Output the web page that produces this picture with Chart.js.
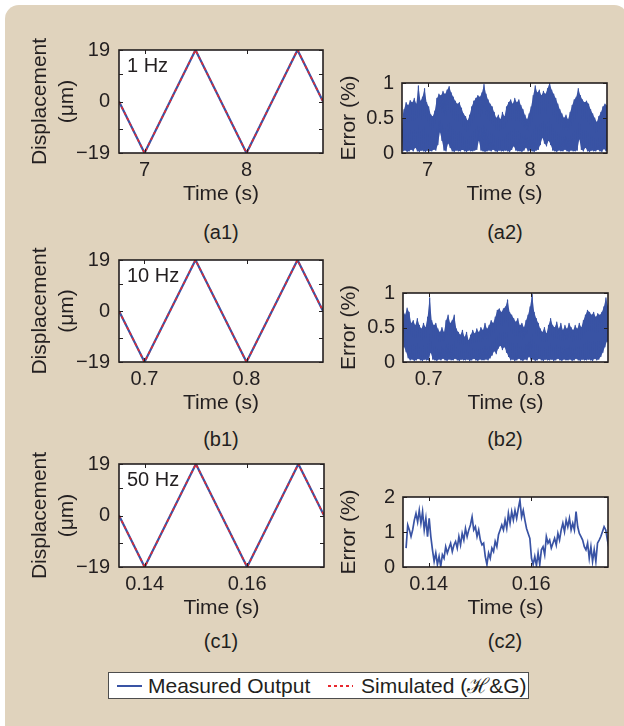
<!DOCTYPE html>
<html>
<head>
<meta charset="utf-8">
<script src="https://cdn.jsdelivr.net/npm/chart.js@4.4.1/dist/chart.umd.min.js"></script>
<style>
  html, body { margin: 0; padding: 0; background: #ffffff; }
  body { width: 624px; height: 726px; position: relative; overflow: hidden;
         font-family: "Liberation Sans", Arial, sans-serif; color: #231f20; }
  #panel { position: absolute; left: 5px; top: 5px; width: 623px; height: 760px;
           border-radius: 14px; background: #e0d3bd; }
  canvas { position: absolute; }
  .sub { position: absolute; font-size: 20px; line-height: 1; white-space: nowrap;
         transform: translate(-50%, -50%); }
  #legend { position: absolute; left: 108px; top: 672px; width: 419px; height: 25px;
            background: #ffffff; border: 1px solid #4d4d4d; }
  #legend .lt { position: absolute; top: 1px; font-size: 21px; line-height: 24px; white-space: nowrap; }
  #legend .sw { position: absolute; top: 12px; width: 25px; height: 2px; }
</style>
</head>
<body>
<div id="panel"></div>

<div class="sub" style="left:221px; top:232px;">(a1)</div>
<div class="sub" style="left:505px; top:232px;">(a2)</div>
<div class="sub" style="left:221px; top:439px;">(b1)</div>
<div class="sub" style="left:505px; top:439px;">(b2)</div>
<div class="sub" style="left:221px; top:641px;">(c1)</div>
<div class="sub" style="left:505px; top:641px;">(c2)</div>

<div id="legend">
  <span class="sw" style="left:8px; background:#3953a4;"></span>
  <span class="lt" style="left:39px;">Measured Output</span>
  <span class="sw" style="left:219px; background:repeating-linear-gradient(90deg,#e8282e 0 3px,transparent 3px 6px);"></span>
  <span class="lt" style="left:252px;">Simulated (ℋ&amp;G)</span>
</div>

<script>
// ---------- data ----------
// 1 Hz triangle reference (displacement in µm)
const a1Time = [6.75, 7, 7.5, 8, 8.5, 8.75];
const a1Measured = [0, -19, 19, -19, 19, 0];
const a1Simulated = [0, -19, 19, -19, 19, 0];

// 10 Hz
const b1Time = [0.675, 0.7, 0.75, 0.8, 0.85, 0.875];
const b1Measured = [0, -19, 19, -19, 19, 0];
const b1Simulated = [0, -19, 19, -19, 19, 0];

// 50 Hz
const c1Time = [0.135, 0.14, 0.15, 0.16, 0.17, 0.175];
const c1Measured = [0, -19, 19, -19, 19, 0];
const c1Simulated = [0, -19, 19, -19, 19, 0];

// tracking error (%) at 1 Hz: per-sample peak and trough, one sample every 0.02 s from 6.75 s
const a2Start = 6.75, a2Step = 0.02;
const a2Peak = [
  0.50,0.62,0.72,0.68,0.75,0.72,0.78,0.70,0.96,0.74,
  0.80,0.92,0.72,0.66,0.55,0.52,0.60,0.78,0.84,0.82,
  0.88,0.84,0.90,0.95,0.86,0.80,0.74,0.70,0.72,0.64,
  0.56,0.52,0.46,0.54,0.66,0.74,0.78,0.82,0.80,0.86,
  0.98,0.84,0.76,0.70,0.66,0.58,0.50,0.54,0.48,0.58,
  0.52,0.66,0.72,0.76,0.70,0.78,0.72,0.76,0.68,0.62,
  0.54,0.48,0.56,0.66,0.82,0.96,0.86,0.90,0.82,0.88,
  0.84,0.92,1.00,0.90,0.84,0.78,0.70,0.62,0.56,0.50,
  0.54,0.48,0.58,0.68,0.76,0.80,0.92,0.82,0.76,0.72,
  0.74,0.70,0.62,0.56,0.50,0.44,0.52,0.58,0.66,0.70,
  0.68];
const a2Trough = [
  0.03,0.04,0.02,0.03,0.05,0.03,0.08,0.03,0.02,0.04,
  0.03,0.02,0.04,0.03,0.03,0.05,0.04,0.12,0.30,0.18,
  0.04,0.03,0.14,0.08,0.03,0.02,0.04,0.03,0.03,0.05,
  0.03,0.02,0.04,0.03,0.03,0.04,0.05,0.18,0.04,0.03,
  0.02,0.03,0.04,0.03,0.05,0.03,0.02,0.04,0.03,0.03,
  0.04,0.03,0.02,0.05,0.10,0.04,0.03,0.03,0.02,0.04,
  0.08,0.03,0.04,0.03,0.02,0.04,0.05,0.12,0.22,0.14,
  0.10,0.18,0.12,0.04,0.03,0.02,0.04,0.03,0.03,0.05,
  0.03,0.02,0.04,0.03,0.03,0.04,0.20,0.05,0.03,0.08,
  0.03,0.02,0.04,0.03,0.03,0.05,0.03,0.02,0.06,0.03,
  0.03];

// tracking error (%) at 10 Hz: one sample every 0.002 s from 0.675 s
const b2Start = 0.675, b2Step = 0.002;
const b2Peak = [
  0.75,0.68,0.78,0.72,0.56,0.60,0.53,0.63,0.53,0.48,
  0.56,0.50,0.65,0.93,0.60,0.53,0.56,0.48,0.43,0.50,
  0.43,0.60,0.68,0.56,0.60,0.68,0.48,0.43,0.39,0.46,
  0.36,0.43,0.31,0.39,0.46,0.41,0.48,0.43,0.50,0.46,
  0.56,0.48,0.53,0.60,0.56,0.65,0.75,0.77,0.72,0.77,
  0.80,0.90,0.72,0.68,0.63,0.58,0.63,0.53,0.56,0.50,
  0.60,0.68,0.80,0.98,0.72,0.63,0.56,0.48,0.43,0.50,
  0.41,0.53,0.63,0.53,0.50,0.58,0.48,0.56,0.46,0.53,
  0.48,0.56,0.50,0.46,0.53,0.48,0.56,0.50,0.60,0.68,
  0.75,0.72,0.68,0.72,0.65,0.70,0.68,0.72,0.80,0.93,
  0.80];
const b2Trough = [
  0.22,0.15,0.06,0.03,0.04,0.02,0.03,0.05,0.03,0.02,
  0.04,0.03,0.03,0.14,0.04,0.03,0.02,0.04,0.03,0.05,
  0.03,0.02,0.04,0.03,0.03,0.05,0.03,0.02,0.04,0.03,
  0.03,0.04,0.02,0.03,0.05,0.03,0.02,0.04,0.03,0.03,
  0.04,0.03,0.06,0.10,0.16,0.12,0.20,0.24,0.18,0.22,
  0.14,0.08,0.03,0.04,0.02,0.03,0.05,0.03,0.02,0.04,
  0.03,0.08,0.03,0.04,0.02,0.03,0.05,0.03,0.02,0.04,
  0.03,0.03,0.04,0.02,0.03,0.05,0.03,0.02,0.04,0.03,
  0.03,0.04,0.02,0.03,0.05,0.03,0.02,0.04,0.03,0.03,
  0.04,0.03,0.02,0.05,0.03,0.04,0.08,0.14,0.22,0.30,
  0.26];

// tracking error (%) at 50 Hz, sampled every 0.000322 s from 0.1356 s
const c2Start = 0.1356, c2Step = 0.000322;
const c2Error = [
  0.54,1.20,1.06,0.87,1.06,1.34,1.53,1.29,1.62,1.25,
  1.58,1.06,1.39,0.87,1.39,0.87,0.49,0.16,0.40,0.07,
  0.30,0.02,0.35,0.25,0.58,0.40,0.54,0.68,0.44,0.63,
  0.73,0.54,0.87,0.63,0.96,0.77,1.10,0.87,1.06,1.20,
  1.43,1.06,1.15,0.87,1.06,0.77,0.63,0.68,0.30,0.07,
  0.40,0.25,0.54,0.44,0.73,0.58,0.92,1.06,1.20,1.06,
  1.34,1.10,1.53,1.25,1.58,1.34,1.62,1.39,1.67,1.91,
  1.43,1.62,1.34,1.10,0.96,0.82,0.25,0.07,0.30,0.04,
  0.40,0.07,0.49,0.58,0.35,0.87,0.68,0.77,0.54,0.68,
  0.82,0.63,0.96,0.77,1.06,1.25,1.01,1.34,1.15,1.39,
  1.06,1.25,1.06,1.58,1.15,0.96,0.87,0.77,0.58,0.49,
  0.68,0.25,0.58,0.16,0.49,0.16,0.68,0.77,0.87,1.01,
  1.15,1.06,0.77,0.54];

// tick values and their labels
const aTimeTicks = [7, 8],        aTimeLabels = ['7', '8'];
const bTimeTicks = [0.7, 0.8],    bTimeLabels = ['0.7', '0.8'];
const cTimeTicks = [0.14, 0.16],  cTimeLabels = ['0.14', '0.16'];
const dispTicks = [-19, -10, 0, 10, 19];
const dispLabels = ['\u221219', '', '0', '', '19'];
const errTicks = [0, 0.5, 1],     errLabels = ['0', '0.5', '1'];
const err2Ticks = [0, 1, 2],      err2Labels = ['0', '1', '2'];

// ---------- drawing ----------
const INK = '#231f20';
const BLUE = '#3953a4';
const RED = '#e8282e';
const FAMILY = '"Liberation Sans", Arial, sans-serif';

const xy = (xs, ys) => xs.map((x, i) => ({ x, y: ys[i] }));
const series = (t0, dt, vs, shift) => vs.map((v, i) => ({ x: t0 + (i + shift) * dt, y: v }));
// alternate each sample's peak with its trough half a step later
const zigzag = (t0, dt, hi, lo) => {
  const pts = [];
  hi.forEach((h, i) => {
    pts.push({ x: t0 + i * dt, y: h });
    pts.push({ x: t0 + (i + 0.5) * dt, y: lo[i] });
  });
  return pts;
};
// dense error trace: the zigzag on top, a solid fill between peaks and troughs under it
const bandSets = (t0, dt, hi, lo) => [
  { data: zigzag(t0, dt, hi, lo), borderColor: BLUE, borderWidth: 1.2, borderJoinStyle: 'round', fill: false },
  { data: series(t0, dt, hi, 0), borderWidth: 0, borderColor: 'rgba(0,0,0,0)', backgroundColor: BLUE, fill: '+1' },
  { data: series(t0, dt, lo, 0.5), borderWidth: 0, borderColor: 'rgba(0,0,0,0)', fill: false }
];

// white plot box, inward ticks on all four sides, frame and an optional tag
const boxPlugin = {
  id: 'box',
  beforeDatasetsDraw(chart) {
    const { ctx, chartArea: a } = chart;
    ctx.save();
    ctx.fillStyle = '#ffffff';
    ctx.fillRect(a.left, a.top, a.width, a.height);
    ctx.restore();
  },
  afterDatasetsDraw(chart, args, opts) {
    const { ctx, chartArea: a, scales } = chart;
    ctx.save();
    ctx.strokeStyle = INK;
    ctx.lineWidth = 1;
    ctx.beginPath();
    scales.x.ticks.forEach(t => {
      const px = Math.round(scales.x.getPixelForValue(t.value)) + 0.5;
      ctx.moveTo(px, a.bottom); ctx.lineTo(px, a.bottom - 4);
      ctx.moveTo(px, a.top); ctx.lineTo(px, a.top + 4);
    });
    scales.y.ticks.forEach(t => {
      const py = Math.round(scales.y.getPixelForValue(t.value)) + 0.5;
      ctx.moveTo(a.left, py); ctx.lineTo(a.left + 4, py);
      ctx.moveTo(a.right, py); ctx.lineTo(a.right - 4, py);
    });
    ctx.stroke();
    ctx.lineWidth = 1.6;
    ctx.strokeRect(a.left, a.top, a.width, a.height);
    if (opts.tag) {
      ctx.fillStyle = INK;
      ctx.font = '20px ' + FAMILY;
      ctx.textBaseline = 'alphabetic';
      ctx.textAlign = 'left';
      ctx.fillText(opts.tag, a.left + 8, a.top + 22);
    }
    ctx.restore();
  }
};

function panel(p) {
  const [cx, cy, cw, ch] = p.canvas;
  const [bl, bt, br, bb] = p.box;
  const cv = document.createElement('canvas');
  cv.width = cw; cv.height = ch;
  cv.style.left = cx + 'px'; cv.style.top = cy + 'px';
  cv.style.width = cw + 'px'; cv.style.height = ch + 'px';
  document.body.appendChild(cv);

  new Chart(cv.getContext('2d'), {
    type: 'line',
    data: { datasets: p.datasets },
    options: {
      responsive: false,
      animation: false,
      devicePixelRatio: 1,
      layout: { padding: { left: 0, top: bt - cy, right: cx + cw - br, bottom: 0 } },
      elements: { point: { radius: 0 }, line: { tension: 0 } },
      plugins: { legend: { display: false }, tooltip: { enabled: false }, box: { tag: p.tag } },
      scales: {
        x: {
          type: 'linear', min: p.xMin, max: p.xMax,
          afterFit: s => { s.height = cy + ch - bb; },
          afterBuildTicks: s => { s.ticks = p.xTicks.map(v => ({ value: v })); },
          grid: { display: false, drawTicks: false },
          border: { display: false },
          ticks: {
            autoSkip: false, maxRotation: 0, padding: 5, color: INK,
            font: { family: FAMILY, size: 20 },
            callback: (v, i) => p.xLabels[i]
          },
          title: {
            display: true, text: 'Time (s)', color: INK,
            font: { family: FAMILY, size: 21, lineHeight: 1.2 },
            padding: { top: 0, bottom: 8.4 }
          }
        },
        y: {
          type: 'linear', min: p.yMin, max: p.yMax,
          afterFit: s => { s.width = bl - cx; },
          afterBuildTicks: s => { s.ticks = p.yTicks.map(v => ({ value: v })); },
          grid: { display: false, drawTicks: false },
          border: { display: false },
          ticks: {
            autoSkip: false, padding: p.yPad, color: INK,
            font: { family: FAMILY, size: 20 },
            callback: (v, i) => p.yLabels[i]
          },
          title: {
            display: true, text: p.yTitle, color: INK,
            font: { family: FAMILY, size: 21, lineHeight: p.yTitleLH },
            padding: { top: p.yTitlePad, bottom: 0 }
          }
        }
      }
    },
    plugins: [boxPlugin]
  });
}

const simulated = (xs, ys) => ({
  data: xy(xs, ys), borderColor: RED, borderWidth: 1.6, borderDash: [3, 3], fill: false
});
const measured = (xs, ys) => ({
  data: xy(xs, ys), borderColor: BLUE, borderWidth: 2.2, fill: false
});
const dispAxis = {
  yMin: -19, yMax: 19, yTicks: dispTicks, yLabels: dispLabels, yPad: 9,
  yTitle: ['Displacement', '(\u03bcm)'], yTitleLH: 1.3, yTitlePad: 26.3
};
const errAxis = (ticks, labels, max) => ({
  yMin: 0, yMax: max, yTicks: ticks, yLabels: labels, yPad: 8,
  yTitle: 'Error (%)', yTitleLH: 1.2, yTitlePad: 6.4
});

// row a: 1 Hz
panel(Object.assign({
  canvas: [0, 0, 330, 215], box: [119, 50, 323, 153], tag: '1 Hz',
  xMin: 6.75, xMax: 8.75, xTicks: aTimeTicks, xLabels: aTimeLabels,
  datasets: [simulated(a1Time, a1Simulated), measured(a1Time, a1Measured)]
}, dispAxis));
panel(Object.assign({
  canvas: [330, 0, 294, 215], box: [402, 83, 607, 153],
  xMin: 6.75, xMax: 8.75, xTicks: aTimeTicks, xLabels: aTimeLabels,
  datasets: bandSets(a2Start, a2Step, a2Peak, a2Trough)
}, errAxis(errTicks, errLabels, 1)));

// row b: 10 Hz
panel(Object.assign({
  canvas: [0, 215, 330, 209], box: [119, 260, 323, 362], tag: '10 Hz',
  xMin: 0.675, xMax: 0.875, xTicks: bTimeTicks, xLabels: bTimeLabels,
  datasets: [simulated(b1Time, b1Simulated), measured(b1Time, b1Measured)]
}, dispAxis));
panel(Object.assign({
  canvas: [330, 215, 294, 209], box: [403, 293, 608, 362],
  xMin: 0.675, xMax: 0.875, xTicks: bTimeTicks, xLabels: bTimeLabels,
  datasets: bandSets(b2Start, b2Step, b2Peak, b2Trough)
}, errAxis(errTicks, errLabels, 1)));

// row c: 50 Hz
panel(Object.assign({
  canvas: [0, 424, 330, 205], box: [119, 464, 324, 567], tag: '50 Hz',
  xMin: 0.135, xMax: 0.175, xTicks: cTimeTicks, xLabels: cTimeLabels,
  datasets: [simulated(c1Time, c1Simulated), measured(c1Time, c1Measured)]
}, dispAxis));
panel(Object.assign({
  canvas: [330, 424, 294, 205], box: [403, 497, 608, 567],
  xMin: 0.135, xMax: 0.175, xTicks: cTimeTicks, xLabels: cTimeLabels,
  datasets: [{ data: series(c2Start, c2Step, c2Error, 0), borderColor: BLUE, borderWidth: 1.7, fill: false }]
}, errAxis(err2Ticks, err2Labels, 2)));
</script>
</body>
</html>
